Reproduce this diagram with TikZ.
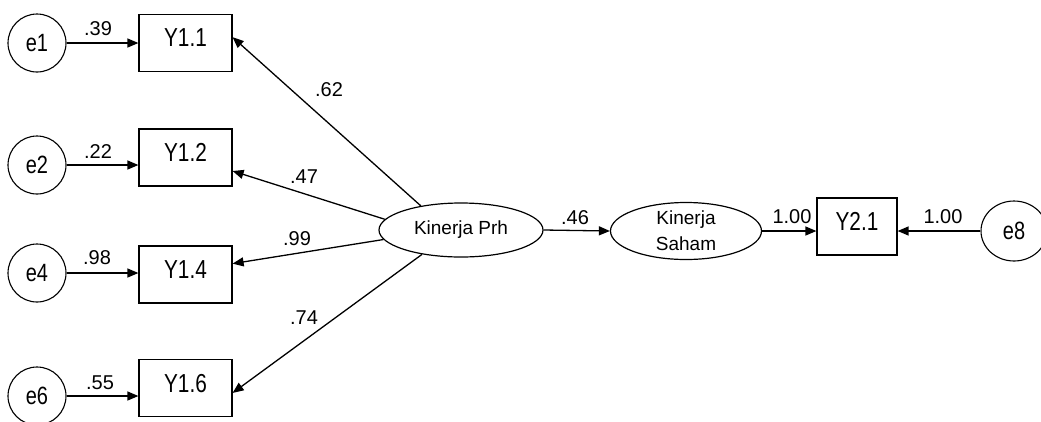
\documentclass[tikz,border=0pt]{standalone}
\usepackage{fontspec}
\setmainfont{Liberation Sans}
\newfontfamily\tallfont{Liberation Sans}[FakeStretch=0.8]
\usetikzlibrary{arrows.meta,shapes.geometric}
\begin{document}
\begin{tikzpicture}[x=1pt,y=-1pt,
  every node/.style={font=\fontsize{20}{24}\selectfont, inner sep=0pt},
  err/.style={draw, circle, line width=1.1pt, minimum size=58pt, font=\tallfont\fontsize{25}{28}\selectfont},
  obs/.style={draw, rectangle, line width=1.2pt, minimum width=93pt, minimum height=57pt, text depth=10pt, font=\tallfont\fontsize{26}{28}\selectfont},
  lat/.style={draw, ellipse, line width=1.2pt, font=\fontsize{19}{26}\selectfont, align=center},
  conn/.style={line width=1.3pt, -{Triangle[length=11pt,width=9pt]}},
  coef/.style={font=\fontsize{20}{24}\selectfont}
]
\useasboundingbox (0,0) rectangle (1041,421);

% error terms
\node[err] (e1) at (37,43) {e1};
\node[err] (e2) at (37,165) {e2};
\node[err] (e4) at (37,273) {e4};
\node[err] (e6) at (37,396) {e6};
\node[err, ellipse, minimum width=66pt, minimum height=60pt] (e8) at (1014,231) {e8};

% observed
\node[obs] (Y11) at (185.5,43) {Y1.1};
\node[obs] (Y12) at (185.5,157.5) {Y1.2};
\node[obs] (Y14) at (185.5,274.5) {Y1.4};
\node[obs] (Y16) at (185.5,388) {Y1.6};
\node[obs, minimum width=80pt] (Y21) at (857,226.5) {Y2.1};

% latent
\node[lat, minimum width=164pt, minimum height=54pt] (prh) at (461,230) {Kinerja Prh};
\node[lat, minimum width=151pt, minimum height=57pt] (saham) at (686,231) {Kinerja\\Saham};

% connectors
\draw[conn] (e1) -- (e1 -| Y11.west);
\draw[conn] (e2) -- (e2 -| Y12.west);
\draw[conn] (e4) -- (e4 -| Y14.west);
\draw[conn] (e6) -- (e6 -| Y16.west);

\draw[conn] (prh.149) -- (Y11.7);
\draw[conn] (prh.172) -- (Y12.-16);
\draw[conn] (prh.-173) -- (Y14.13);
\draw[conn] (prh.-148) -- (Y16.-6);

\draw[conn] (prh.east) -- (saham.west);
\draw[conn] (saham.east) -- (saham.east -| Y21.west);
\draw[conn] (e8) -- (e8 -| Y21.east);

% coefficients
\node[coef] (c1) at (98,29) {.39};
\node[coef] (c2) at (98,152) {.22};
\node[coef] (c4) at (97,258) {.98};
\node[coef] (c6) at (100,383) {.55};
\node[coef] (l1) at (329,90) {.62};
\node[coef] (l2) at (304,177) {.47};
\node[coef] (l4) at (297,239) {.99};
\node[coef] (l6) at (304,318) {.74};
\node[coef] (s1) at (575,218) {.46};
\node[coef] (s2) at (792,217) {1.00};
\node[coef] (s3) at (943,217) {1.00};
\end{tikzpicture}
\end{document}
